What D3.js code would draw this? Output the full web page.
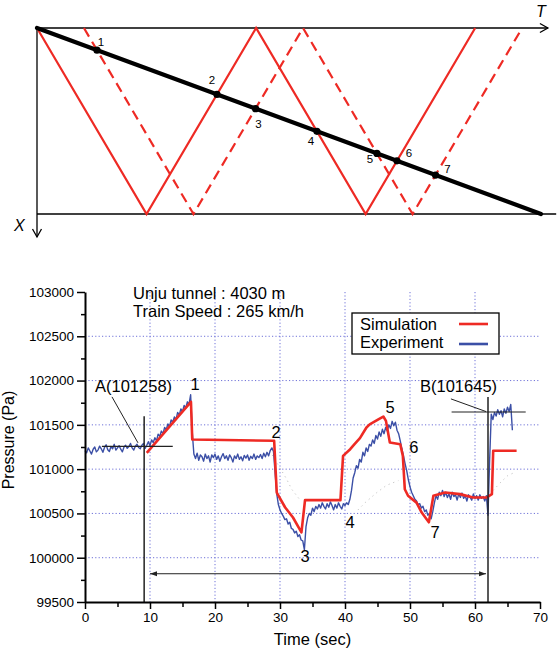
<!DOCTYPE html>
<html><head><meta charset="utf-8">
<script src="https://cdn.jsdelivr.net/npm/d3@7/dist/d3.min.js"></script>
<style>
html,body{margin:0;padding:0;background:#fff}
svg{display:block;font-family:"Liberation Sans",Arial,sans-serif}
</style></head><body>
<svg id="c" width="558" height="650"></svg>
<script>
// --- wave diagram (x-t) ---
const tunnelLength = 4030;          // m
const trainTime = 54.75;            // s, 4030 m at 265 km/h
const solidT = [0, 11.9, 23.8, 35.7, 47.6];   // compression wave from nose
const solidX = [0, 4030, 0, 4030, 0];
const dashT = [5.1, 17.0, 28.9, 40.8, 52.7];  // expansion wave from tail
const dashX = [0, 4030, 0, 4030, 0];
const pointLabels = ["1", "2", "3", "4", "5", "6", "7"];

// --- pressure history ---
const simTime = [9.5, 16.3, 16.5, 29.1, 29.5, 30.8, 32.0, 33.3, 33.85, 39.3, 39.7, 40.8, 41.5, 42.3, 43.3, 43.8, 44.4, 45.2, 45.9, 46.3, 46.9, 48.5, 48.9, 49.2, 49.7, 51.0, 51.8, 52.9, 53.6, 55.4, 57.7, 59.7, 61.8, 62.6, 62.8, 66.4];
const simPressure = [101184, 101760, 101335, 101320, 100736, 100567, 100454, 100285, 100650, 100650, 101150, 101225, 101285, 101350, 101470, 101505, 101530, 101565, 101594, 101545, 101300, 101282, 101150, 100773, 100700, 100622, 100510, 100400, 100700, 100736, 100718, 100680, 100680, 100718, 101207, 101207];

const expStart = 0, expStep = 0.25;  // logger samples
const expPressure = [
  101210, 101185, 101240, 101205, 101170, 101225, 101250, 101195, // 0
  101215, 101260, 101230, 101190, 101245, 101275, 101220, 101200, // 2
  101255, 101230, 101280, 101215, 101240, 101265, 101225, 101195, // 4
  101250, 101270, 101235, 101255, 101290, 101240, 101215, 101260, // 6
  101280, 101245, 101230, 101270, 101290, 101235, 101270, 101310, // 8
  101265, 101330, 101300, 101355, 101320, 101395, 101370, 101430, // 10
  101400, 101470, 101445, 101510, 101480, 101555, 101530, 101590, // 12
  101560, 101640, 101610, 101680, 101650, 101720, 101690, 101760, // 14
  101730, 101840, 101420, 101170, 101120, 101180, 101100, 101160, // 16
  101140, 101090, 101170, 101120, 101150, 101080, 101160, 101130, // 18
  101170, 101110, 101150, 101090, 101140, 101175, 101120, 101150, // 20
  101100, 101160, 101130, 101080, 101150, 101120, 101170, 101110, // 22
  101140, 101095, 101155, 101125, 101160, 101100, 101145, 101120, // 24
  101170, 101110, 101150, 101130, 101165, 101120, 101180, 101140, // 26
  101190, 101150, 101210, 101240, 101200, 100950, 100720, 100600, // 28
  100540, 100500, 100470, 100430, 100440, 100380, 100400, 100330, // 30
  100320, 100280, 100300, 100240, 100260, 100200, 100190, 100090, // 32
  100350, 100450, 100500, 100480, 100560, 100520, 100580, 100550, // 34
  100600, 100560, 100620, 100580, 100550, 100610, 100570, 100630, // 36
  100590, 100540, 100600, 100560, 100620, 100580, 100550, 100610, // 38
  100590, 100620, 100600, 100660, 100760, 100900, 100960, 101040, // 40
  101010, 101110, 101080, 101190, 101150, 101240, 101200, 101280, // 42
  101260, 101330, 101290, 101380, 101340, 101420, 101370, 101450, // 44
  101400, 101470, 101430, 101500, 101460, 101540, 101490, 101530, // 46
  101440, 101400, 101320, 101230, 101150, 101060, 100980, 100880, // 48
  100800, 100740, 100700, 100660, 100640, 100600, 100610, 100560, // 50
  100580, 100520, 100540, 100480, 100500, 100440, 100520, 100620, // 52
  100700, 100660, 100740, 100700, 100760, 100690, 100740, 100680, // 54
  100720, 100660, 100740, 100690, 100710, 100650, 100720, 100680, // 56
  100730, 100670, 100700, 100640, 100710, 100680, 100650, 100720, // 58
  100670, 100700, 100650, 100710, 100670, 100690, 100640, 100700, // 60
  100480, 101100, 101620, 101560, 101640, 101600, 101670, 101620, // 62
  101660, 101590, 101680, 101630, 101700, 101650, 101730, 101440  // 64
];
// faint dotted trace
const ghostTime = [28.8, 31.0, 31.8, 33.0, null, 42.0, 43.1, 44.9, 46.4, 48.2, null, 62.8, 63.8, 65.0, 66.0];
const ghostPressure = [101160, 100890, 100773, 100660, null, 100540, 100622, 100736, 100818, 100870, null, 100760, 100840, 100925, 100960];

const xTicks = [0, 10, 20, 30, 40, 50, 60, 70];
const xMinor = [5, 15, 25, 35, 45, 55, 65];
const yTicks = [99500, 100000, 100500, 101000, 101500, 102000, 102500, 103000];
const yMinor = [99750, 100250, 100750, 101250, 101750, 102250, 102750];
const peakText = ["1", "2", "3", "4", "5", "6", "7"];
const peakTime = [16.92, 29.4, 33.85, 40.77, 46.92, 50.6, 53.85];
const peakAt = [101893, 101352, 99952, 100335, 101634, 101182, 100223];
const refA = {t: 9.1, p: 101258, label: "A(101258)"};
const refB = {t: 62.0, p: 101645, label: "B(101645)"};

const RED = "#ee2a24", BLUE = "#3b4fa6", GRID = "#6f72d8";
const svg = d3.select("#c");

// ================= top: wave diagram =================
const tS = d3.scaleLinear().domain([0, trainTime]).range([37, 541]);
const xS = d3.scaleLinear().domain([0, tunnelLength]).range([28, 214]);
const gt = svg.append("g");

gt.append("line").attr("x1", tS(0)).attr("x2", tS(55.5)).attr("y1", xS(0)).attr("y2", xS(0))
  .attr("stroke", "#000").attr("stroke-width", 1.3);
gt.append("polyline").attr("points", `${tS(55.5)-8},${xS(0)-4.5} ${tS(55.5)},${xS(0)} ${tS(55.5)-8},${xS(0)+4.5}`)
  .attr("fill", "none").attr("stroke", "#000").attr("stroke-width", 1.3);
gt.append("line").attr("x1", tS(0)).attr("x2", tS(56.4)).attr("y1", xS(tunnelLength)).attr("y2", xS(tunnelLength))
  .attr("stroke", "#000").attr("stroke-width", 1.3);
gt.append("line").attr("x1", tS(0)).attr("x2", tS(0)).attr("y1", xS(0)).attr("y2", xS(tunnelLength) + 23)
  .attr("stroke", "#000").attr("stroke-width", 1.3);
gt.append("polyline").attr("points", `${tS(0)-4.5},${xS(tunnelLength)+15} ${tS(0)},${xS(tunnelLength)+23} ${tS(0)+4.5},${xS(tunnelLength)+15}`)
  .attr("fill", "none").attr("stroke", "#000").attr("stroke-width", 1.3);
gt.append("text").attr("x", 14).attr("y", 231).attr("font-size", 16).attr("font-style", "italic").text("X");
gt.append("text").attr("x", 536).attr("y", 17).attr("font-size", 16).attr("font-style", "italic").text("T");

const wave = d3.line().x(d => tS(d[0])).y(d => xS(d[1]));
const solid = solidT.map((t, i) => [t, solidX[i]]);
const dashed = dashT.map((t, i) => [t, dashX[i]]);
gt.append("path").attr("d", wave(solid)).attr("fill", "none").attr("stroke", RED).attr("stroke-width", 2.2);
gt.append("path").attr("d", wave(dashed)).attr("fill", "none").attr("stroke", RED).attr("stroke-width", 2.2)
  .attr("stroke-dasharray", "10,6");

// train path
gt.append("line").attr("x1", tS(0)).attr("y1", xS(0)).attr("x2", tS(trainTime)).attr("y2", xS(tunnelLength))
  .attr("stroke", "#000").attr("stroke-width", 4.2).attr("stroke-linecap", "round");

// intersections of the waves with the train
const v = tunnelLength / trainTime;
const hits = [];
[solid, dashed].forEach(pts => {
  for (let i = 0; i < pts.length - 1; i++) {
    const [t0, x0] = pts[i], [t1, x1] = pts[i + 1];
    const s = (v * t0 - x0) / ((x1 - x0) - v * (t1 - t0));
    if (s >= 0 && s <= 1) {
      const t = t0 + s * (t1 - t0);
      if (t > 0.5) hits.push([t, v * t]);
    }
  }
});
hits.sort((a, b) => a[0] - b[0]);
const labOff = [[4, -8], [-5, -14], [3, 15], [-6, 10], [-7, 6], [12, -8], [12, -6]];
hits.forEach((h, i) => {
  gt.append("circle").attr("cx", tS(h[0])).attr("cy", xS(h[1])).attr("r", 3.6).attr("fill", "#000");
  gt.append("text").attr("x", tS(h[0]) + labOff[i][0]).attr("y", xS(h[1]) + labOff[i][1])
    .attr("text-anchor", "middle").attr("dominant-baseline", "central").attr("font-size", 11.5)
    .text(pointLabels[i]);
});

// ================= bottom: pressure chart =================
const xP = d3.scaleLinear().domain([0, 70]).range([85, 540]);
const yP = d3.scaleLinear().domain([99500, 103000]).range([602, 292]);
const gp = svg.append("g");

// grid
gp.selectAll(".vg").data(xTicks.filter(d => d > 0 && d < 70)).join("line")
  .attr("x1", d => xP(d)).attr("x2", d => xP(d)).attr("y1", yP(103000)).attr("y2", yP(99500))
  .attr("stroke", GRID).attr("stroke-width", 1).attr("stroke-dasharray", "1.2,2.2");
gp.selectAll(".hg").data(yTicks.filter(d => d > 99500 && d < 103000)).join("line")
  .attr("x1", xP(0)).attr("x2", xP(70)).attr("y1", d => yP(d)).attr("y2", d => yP(d))
  .attr("stroke", GRID).attr("stroke-width", 1).attr("stroke-dasharray", "1.2,2.2");

// faint trace
const ghost = ghostTime.map((t, i) => [t, ghostPressure[i]]);
gp.append("path").attr("d", d3.line().defined(d => d[0] != null).x(d => xP(d[0])).y(d => yP(d[1]))(ghost))
  .attr("fill", "none").attr("stroke", "#b8b8b8").attr("stroke-width", 1).attr("stroke-dasharray", "1,4");

// experiment
const lineP = d3.line().x(d => xP(d[0])).y(d => yP(d[1]));
const exp = expPressure.map((p, i) => [expStart + i * expStep, p]);
gp.append("path").attr("d", lineP(exp)).attr("fill", "none").attr("stroke", BLUE).attr("stroke-width", 1.4)
  .attr("stroke-linejoin", "round");
// simulation
const sim = simTime.map((t, i) => [t, simPressure[i]]);
gp.append("path").attr("d", lineP(sim)).attr("fill", "none").attr("stroke", RED).attr("stroke-width", 2.6)
  .attr("stroke-linejoin", "round");

// reference marks A and B
const ink = "#222";
[refA, refB].forEach(r => {
  gp.append("line").attr("x1", xP(r.t)).attr("x2", xP(r.t)).attr("y1", yP(99500)).attr("y2", yP(r.p + (r === refA ? 340 : 170)))
    .attr("stroke", ink).attr("stroke-width", 1.5);
  gp.append("line").attr("x1", xP(r.t - (r === refA ? 6.5 : 5.6))).attr("x2", xP(r.t + (r === refA ? 4.4 : 5.8)))
    .attr("y1", yP(r.p)).attr("y2", yP(r.p)).attr("stroke", ink).attr("stroke-width", 1.2);
});
gp.append("line").attr("x1", xP(4.15)).attr("y1", yP(101816)).attr("x2", xP(8.15)).attr("y2", yP(101297))
  .attr("stroke", ink).attr("stroke-width", 1);
gp.append("line").attr("x1", xP(56.3)).attr("y1", yP(101793)).attr("x2", xP(61.7)).attr("y2", yP(101650))
  .attr("stroke", ink).attr("stroke-width", 1);
gp.append("text").attr("x", xP(1.54)).attr("y", yP(101871)).attr("font-size", 16.5).text(refA.label);
gp.append("text").attr("x", xP(51.54)).attr("y", yP(101871)).attr("font-size", 16.5).text(refB.label);

// double arrow A -> B
const ya = yP(99819);
gp.append("line").attr("x1", xP(10)).attr("x2", xP(61.7)).attr("y1", ya).attr("y2", ya).attr("stroke", ink).attr("stroke-width", 1);
gp.append("path").attr("d", `M${xP(10)},${ya} l7,-2.5 v5 z`).attr("fill", ink);
gp.append("path").attr("d", `M${xP(61.7)},${ya} l-7,-2.5 v5 z`).attr("fill", ink);

// peak numbers
peakText.forEach((s, i) => {
  gp.append("text").attr("x", xP(peakTime[i])).attr("y", yP(peakAt[i])).attr("text-anchor", "middle")
    .attr("font-size", 16.5).text(s);
});

// axes
const ax = d3.axisBottom(xP).tickValues(xTicks).tickSize(7).tickSizeOuter(0).tickPadding(3);
const gx = gp.append("g").attr("transform", `translate(0,${yP(99500)})`).call(ax);
gp.append("g").attr("transform", `translate(0,${yP(99500)})`)
  .call(d3.axisBottom(xP).tickValues(xMinor).tickSize(5).tickFormat("")).select(".domain").remove();
const ay = d3.axisLeft(yP).tickValues(yTicks).tickSize(8).tickSizeOuter(0).tickPadding(3).tickFormat(d3.format("d"));
const gy = gp.append("g").attr("transform", `translate(${xP(0)},0)`).call(ay);
gp.append("g").attr("transform", `translate(${xP(0)},0)`)
  .call(d3.axisLeft(yP).tickValues(yMinor).tickSize(4).tickFormat("")).select(".domain").remove();
gp.selectAll(".domain").attr("stroke", "#000").attr("stroke-width", 2);
gp.selectAll(".tick line").attr("stroke", "#000").attr("stroke-width", 1.5);
[gx, gy].forEach(g => g.selectAll("text").attr("font-size", 13.5).attr("fill", "#000")
  .attr("font-family", '"Liberation Sans",Arial,sans-serif'));

gp.append("text").attr("x", (xP(0) + xP(70)) / 2).attr("y", 645).attr("text-anchor", "middle")
  .attr("font-size", 16.5).text("Time (sec)");
gp.append("text").attr("transform", "translate(13.5,440) rotate(-90)").attr("text-anchor", "middle")
  .attr("font-size", 16).text("Pressure (Pa)");

// title block
gp.append("text").attr("x", 133).attr("y", 298.5).attr("font-size", 16.5).text("Unju tunnel : 4030 m");
gp.append("text").attr("x", 133).attr("y", 317).attr("font-size", 16.5).text("Train Speed : 265 km/h");

// legend
const lg = gp.append("g").attr("transform", "translate(352,313)");
lg.append("rect").attr("width", 147).attr("height", 41).attr("fill", "#fff").attr("stroke", "#000").attr("stroke-width", 1.3);
lg.append("text").attr("x", 8).attr("y", 17).attr("font-size", 16.5).text("Simulation");
lg.append("text").attr("x", 8).attr("y", 35).attr("font-size", 16.5).text("Experiment");
lg.append("line").attr("x1", 107).attr("x2", 136).attr("y1", 11).attr("y2", 11).attr("stroke", RED).attr("stroke-width", 2.6);
lg.append("line").attr("x1", 107).attr("x2", 136).attr("y1", 31).attr("y2", 31).attr("stroke", BLUE).attr("stroke-width", 2.6);
</script>
</body></html>
